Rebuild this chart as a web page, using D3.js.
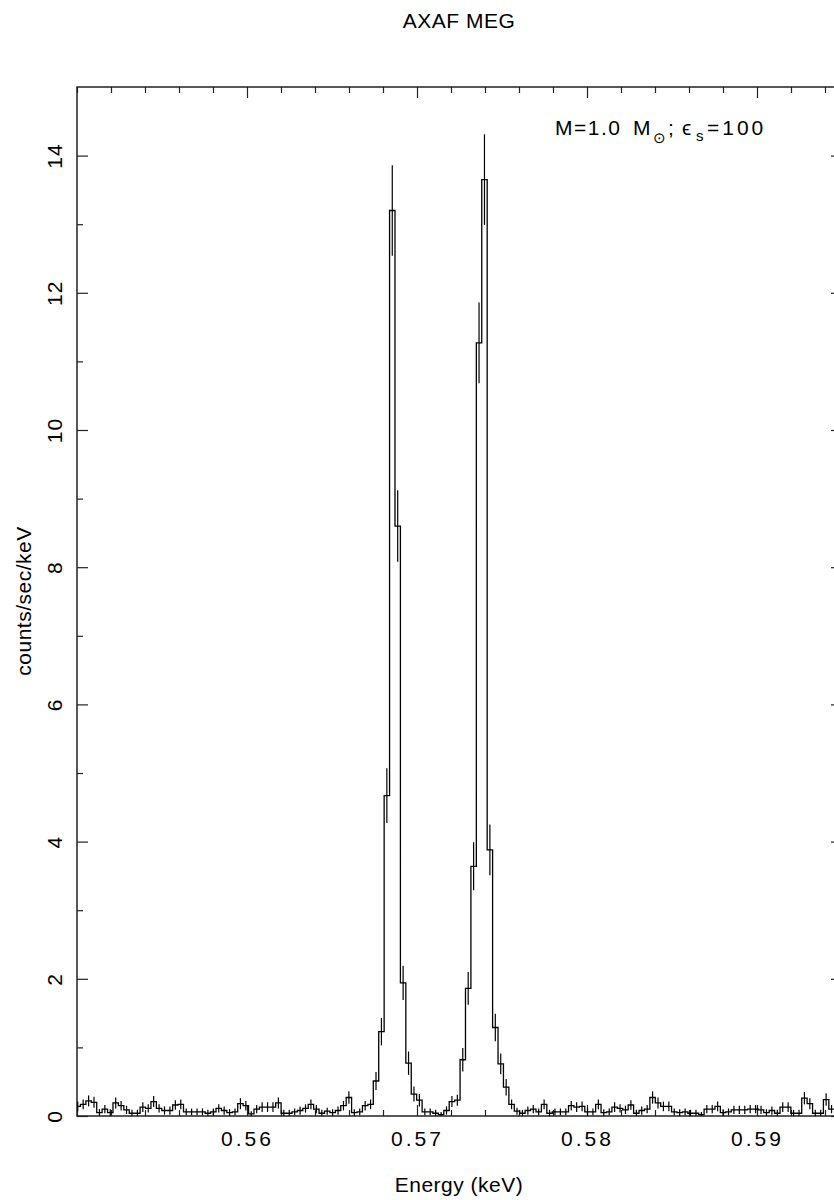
<!DOCTYPE html>
<html>
<head>
<meta charset="utf-8">
<script src="https://cdn.jsdelivr.net/npm/d3@7"></script>
<style>
  body { margin: 0; background: #fff; }
  svg text { font-family: "Liberation Sans", Arial, sans-serif; fill: #000; }
</style>
</head>
<body>
<svg id="chart" width="834" height="1200"></svg>
<script>
// energy bins (keV): first bin lower edge and width
const binStart = 0.549884;
const binWidth = 0.000319;

// counts/sec/keV per bin
const rates = [
  0.14, 0.17, 0.22, 0.20, 0.05, 0.10, 0.05, 0.19, 0.15, 0.09,
  0.04, 0.04, 0.13, 0.11, 0.21, 0.11, 0.08, 0.08, 0.16, 0.17,
  0.06, 0.06, 0.06, 0.06, 0.04, 0.06, 0.11, 0.08, 0.05, 0.06,
  0.18, 0.15, 0.03, 0.10, 0.13, 0.13, 0.13, 0.19, 0.04, 0.04,
  0.06, 0.08, 0.11, 0.17, 0.10, 0.04, 0.07, 0.05, 0.08, 0.15,
  0.27, 0.05, 0.06, 0.15, 0.17, 0.51, 1.23, 4.67, 13.20, 8.60,
  1.94, 0.77, 0.32, 0.23, 0.06, 0.06, 0.04, 0.02, 0.08, 0.21,
  0.23, 0.82, 1.86, 3.64, 11.27, 13.65, 3.88, 1.29, 0.76, 0.42,
  0.17, 0.07, 0.04, 0.08, 0.10, 0.06, 0.17, 0.04, 0.06, 0.06,
  0.06, 0.15, 0.13, 0.14, 0.06, 0.06, 0.17, 0.05, 0.06, 0.13,
  0.11, 0.09, 0.16, 0.04, 0.08, 0.10, 0.27, 0.19, 0.14, 0.14,
  0.06, 0.05, 0.06, 0.04, 0.04, 0.02, 0.10, 0.10, 0.14, 0.05,
  0.06, 0.09, 0.09, 0.09, 0.10, 0.10, 0.09, 0.05, 0.08, 0.04,
  0.13, 0.13, 0.04, 0.04, 0.26, 0.18, 0.04, 0.04, 0.24, 0.10,
  0.10, 0.08
];

// 1-sigma errors per bin
const errors = [
  0.07, 0.07, 0.08, 0.08, 0.05, 0.06, 0.05, 0.08, 0.07, 0.06,
  0.05, 0.05, 0.07, 0.06, 0.08, 0.06, 0.06, 0.06, 0.07, 0.07,
  0.05, 0.05, 0.05, 0.05, 0.05, 0.05, 0.06, 0.06, 0.05, 0.05,
  0.08, 0.07, 0.04, 0.06, 0.07, 0.07, 0.07, 0.08, 0.05, 0.05,
  0.05, 0.06, 0.06, 0.07, 0.06, 0.05, 0.05, 0.05, 0.06, 0.07,
  0.09, 0.05, 0.05, 0.07, 0.07, 0.13, 0.20, 0.40, 0.66, 0.52,
  0.25, 0.17, 0.11, 0.09, 0.05, 0.05, 0.05, 0.04, 0.06, 0.08,
  0.08, 0.17, 0.24, 0.35, 0.59, 0.66, 0.37, 0.20, 0.15, 0.12,
  0.07, 0.05, 0.05, 0.06, 0.06, 0.05, 0.07, 0.05, 0.05, 0.05,
  0.05, 0.07, 0.07, 0.07, 0.05, 0.05, 0.07, 0.05, 0.05, 0.07,
  0.06, 0.06, 0.07, 0.05, 0.06, 0.06, 0.09, 0.08, 0.07, 0.07,
  0.05, 0.05, 0.05, 0.05, 0.05, 0.04, 0.06, 0.06, 0.07, 0.05,
  0.05, 0.06, 0.06, 0.06, 0.06, 0.06, 0.06, 0.05, 0.06, 0.05,
  0.07, 0.07, 0.05, 0.05, 0.09, 0.08, 0.05, 0.05, 0.09, 0.06,
  0.06, 0.06
];

const xMajor = [0.56, 0.57, 0.58, 0.59];
const yMajor = [0, 2, 4, 6, 8, 10, 12, 14];

const svg = d3.select("#chart");
const x = d3.scaleLinear().domain([0.55, 0.595]).range([77, 842]);
const y = d3.scaleLinear().domain([0, 15]).range([1116, 87]);

const xMinor = d3.range(0.55, 0.5951, 0.002).filter(v => !xMajor.some(m => Math.abs(m - v) < 1e-6));
const yMinor = d3.range(1, 15, 2);

svg.append("defs").append("clipPath").attr("id", "plotClip")
  .append("rect")
  .attr("x", x.range()[0]).attr("y", y.range()[1])
  .attr("width", x.range()[1] - x.range()[0])
  .attr("height", y.range()[0] - y.range()[1]);

function styleAxis(g) {
  g.select(".domain").remove();
  g.selectAll(".tick line").attr("stroke", "#222").attr("stroke-width", 1.2);
}

// bottom
svg.append("g").attr("transform", `translate(0,${y(0)})`)
  .call(d3.axisBottom(x).tickValues(xMajor).tickSize(-11).tickPadding(15).tickFormat(d3.format(".2f")))
  .call(styleAxis)
  .call(g => g.selectAll("text").attr("font-size", 21).attr("letter-spacing", "3px"));
svg.append("g").attr("transform", `translate(0,${y(0)})`)
  .call(d3.axisBottom(x).tickValues(xMinor).tickSize(-6).tickFormat(""))
  .call(styleAxis);
// top
svg.append("g").attr("transform", `translate(0,${y(15)})`)
  .call(d3.axisTop(x).tickValues(xMajor).tickSize(-11).tickFormat(""))
  .call(styleAxis);
svg.append("g").attr("transform", `translate(0,${y(15)})`)
  .call(d3.axisTop(x).tickValues(xMinor).tickSize(-6).tickFormat(""))
  .call(styleAxis);
// left
svg.append("g").attr("transform", `translate(${x(0.55)},0)`)
  .call(d3.axisLeft(y).tickValues(yMajor).tickSize(-11).tickFormat(d3.format("d")))
  .call(styleAxis)
  .call(g => g.selectAll("text")
    .attr("x", null).attr("dy", null)
    .attr("text-anchor", "middle")
    .attr("font-size", 21)
    .attr("letter-spacing", "1px")
    .attr("transform", "translate(-15,0) rotate(-90)"));
svg.append("g").attr("transform", `translate(${x(0.55)},0)`)
  .call(d3.axisLeft(y).tickValues(yMinor).tickSize(-6).tickFormat(""))
  .call(styleAxis);
// right
svg.append("g").attr("transform", `translate(${x(0.595)},0)`)
  .call(d3.axisRight(y).tickValues(yMajor).tickSize(-11).tickFormat(""))
  .call(styleAxis);
svg.append("g").attr("transform", `translate(${x(0.595)},0)`)
  .call(d3.axisRight(y).tickValues(yMinor).tickSize(-6).tickFormat(""))
  .call(styleAxis);

// frame
svg.append("rect")
  .attr("x", x(0.55)).attr("y", y(15))
  .attr("width", x(0.595) - x(0.55)).attr("height", y(0) - y(15))
  .attr("fill", "none").attr("stroke", "#222").attr("stroke-width", 1.5);

// histogram steps
const bins = rates.map((v, i) => ({ lo: binStart + i * binWidth, v: v, e: errors[i] }));
const stepPts = bins.map(b => [b.lo, b.v]);
stepPts.push([bins[bins.length - 1].lo + binWidth, bins[bins.length - 1].v]);

const plot = svg.append("g").attr("clip-path", "url(#plotClip)");
plot.append("path")
  .datum(stepPts)
  .attr("fill", "none")
  .attr("stroke", "#000")
  .attr("stroke-width", 1.3)
  .attr("d", d3.line().x(d => x(d[0])).y(d => y(d[1])).curve(d3.curveStepAfter));

plot.selectAll(".err").data(bins).join("line")
  .attr("class", "err")
  .attr("x1", d => x(d.lo + binWidth / 2)).attr("x2", d => x(d.lo + binWidth / 2))
  .attr("y1", d => y(Math.max(0, d.v - d.e))).attr("y2", d => y(d.v + d.e))
  .attr("stroke", "#000").attr("stroke-width", 1.2);

// titles
svg.append("text").attr("x", 459).attr("y", 28).attr("text-anchor", "middle")
  .attr("font-size", 21).attr("letter-spacing", "0.5px").text("AXAF MEG");
svg.append("text").attr("x", 459).attr("y", 1192).attr("text-anchor", "middle")
  .attr("font-size", 21).attr("letter-spacing", "0.5px").text("Energy (keV)");
svg.append("text").attr("transform", "translate(31,601) rotate(-90)").attr("text-anchor", "middle")
  .attr("font-size", 21).attr("letter-spacing", "0.5px").text("counts/sec/keV");

// annotation: M=1.0 M_sun; eps_s=100
const note = svg.append("g").attr("font-size", 21);
note.append("text").attr("x", 555).attr("y", 135).attr("letter-spacing", "1.5px").text("M=1.0");
note.append("text").attr("x", 633).attr("y", 135).text("M");
note.append("text").attr("x", 653).attr("y", 143).attr("font-size", 15).attr("font-family", "DejaVu Sans").text("\u2299");
note.append("text").attr("x", 668).attr("y", 135).text(";");
note.append("text").attr("x", 682).attr("y", 135).attr("font-family", "DejaVu Sans").attr("font-size", 21).text("\u03f5");
note.append("text").attr("x", 696).attr("y", 141).attr("font-size", 15).text("s");
note.append("text").attr("x", 707).attr("y", 135).attr("letter-spacing", "3px").text("=100");
</script>
</body>
</html>
